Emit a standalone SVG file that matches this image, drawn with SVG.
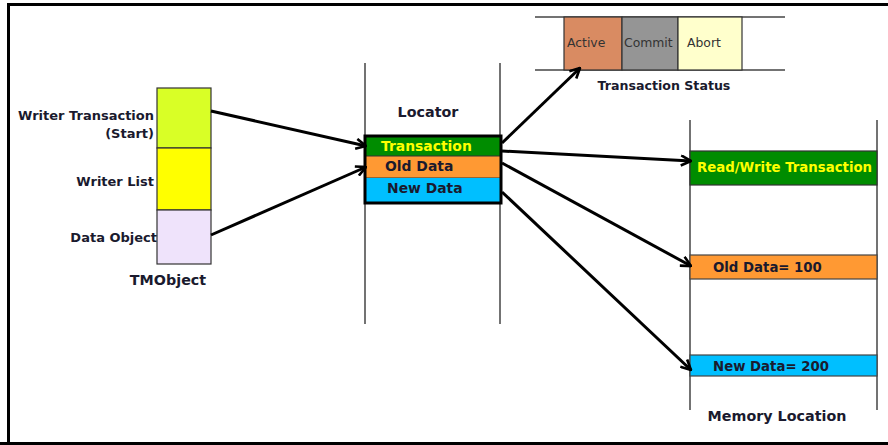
<svg xmlns="http://www.w3.org/2000/svg" width="888" height="445" viewBox="0 0 888 445">
<defs>
<style>
.b{font-family:"DejaVu Sans",Verdana,sans-serif;font-weight:bold;font-size:13px;fill:#1a1a2e}
.t{font-size:14.3px}
.m{font-size:13.9px}
.r{font-size:13.3px}
.y{fill:#ffff00}
.n{font-family:"DejaVu Sans",Verdana,sans-serif;font-size:12.4px;fill:#333}
.vl{stroke:#444;stroke-width:1.5;fill:none}
.cell{stroke:#333;stroke-width:1.2}
.conn{stroke:#000;stroke-width:3;fill:none;marker-end:url(#ah)}
</style>
<marker id="ah" viewBox="0 0 12 12" refX="11" refY="6" markerWidth="12" markerHeight="12" markerUnits="userSpaceOnUse" orient="auto">
<path d="M1,1 L11,6 L1,11" fill="none" stroke="#000" stroke-width="2.6"/>
</marker>
</defs>
<rect width="888" height="445" fill="#fff"/>
<path d="M8.5,445 V4.5 H888" fill="none" stroke="#000" stroke-width="3"/>
<path d="M0,443.5 H888" stroke="#000" stroke-width="3"/>

<g id="tmobject">
<rect class="cell" x="157" y="88" width="54" height="60" fill="#d9ff26"/>
<rect class="cell" x="157" y="148" width="54" height="62" fill="#ffff00"/>
<rect class="cell" x="157" y="210" width="54" height="54" fill="#efe3fb"/>
<text class="b" x="154" y="120" text-anchor="end">Writer Transaction</text>
<text class="b" x="154" y="138" text-anchor="end">(Start)</text>
<text class="b" x="154" y="186" text-anchor="end">Writer List</text>
<text class="b" x="157" y="242" text-anchor="end">Data Object</text>
<text class="b t" x="168" y="285" text-anchor="middle">TMObject</text>
</g>

<g id="locator">
<line class="vl" x1="365" y1="63" x2="365" y2="324"/>
<line class="vl" x1="500" y1="63" x2="500" y2="324"/>
<text class="b t" x="428" y="117" text-anchor="middle">Locator</text>
<rect x="365" y="136" width="136" height="20" fill="#008c00"/>
<rect x="365" y="156" width="136" height="22" fill="#ff9933" stroke="#333" stroke-width="1"/>
<rect x="365" y="178" width="136" height="25" fill="#00bfff"/>
<rect x="365" y="136" width="136" height="67" fill="none" stroke="#000" stroke-width="3"/>
<text class="b m y" x="381" y="151">Transaction</text>
<text class="b m" x="385" y="171">Old Data</text>
<text class="b m" x="387" y="193">New Data</text>
</g>

<g id="transaction-status">
<line class="vl" x1="535" y1="17" x2="785" y2="17"/>
<line class="vl" x1="535" y1="70" x2="785" y2="70"/>
<rect class="cell" x="564" y="17" width="58" height="53" fill="#d98b62"/>
<rect class="cell" x="622" y="17" width="56" height="53" fill="#959595"/>
<rect class="cell" x="678" y="17" width="64" height="53" fill="#ffffcc"/>
<text class="n" x="567" y="47">Active</text>
<text class="n" x="624" y="47">Commit</text>
<text class="n" x="687" y="47">Abort</text>
<text class="b" style="font-size:12.6px" x="664" y="90" text-anchor="middle">Transaction Status</text>
</g>

<g id="memory-location">
<line class="vl" x1="690" y1="120" x2="690" y2="410"/>
<line class="vl" x1="877" y1="120" x2="877" y2="410"/>
<rect x="690" y="151" width="187" height="34" fill="#008c00" stroke="#333" stroke-width="1.2"/>
<text class="b r y" x="697" y="172">Read/Write Transaction</text>
<rect x="690" y="255" width="187" height="24" fill="#ff9933" stroke="#444" stroke-width="1.2"/>
<text class="b r" x="713" y="272">Old Data= 100</text>
<rect x="690" y="355" width="187" height="21" fill="#00bfff" stroke="#444" stroke-width="1.2"/>
<text class="b r" x="713" y="371">New Data= 200</text>
<text class="b t" x="777" y="421" text-anchor="middle">Memory Location</text>
</g>

<g id="connectors">
<line class="conn" x1="211" y1="111" x2="366" y2="146"/>
<line class="conn" x1="211" y1="235" x2="366" y2="167"/>
<line class="conn" x1="502" y1="143" x2="580" y2="68"/>
<line class="conn" x1="502" y1="151" x2="691" y2="161"/>
<line class="conn" x1="502" y1="163" x2="691" y2="266"/>
<line class="conn" x1="502" y1="192" x2="691" y2="370"/>
</g>
</svg>
